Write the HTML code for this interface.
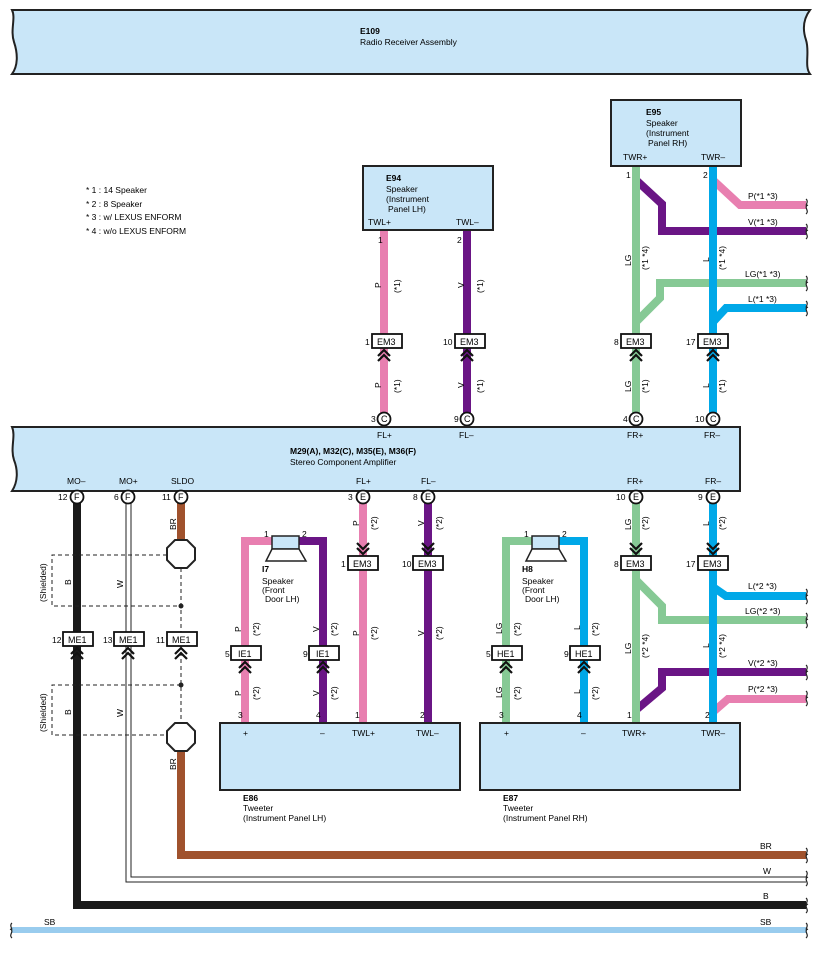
<!DOCTYPE html>
<html><head><meta charset="utf-8"><style>
html,body{margin:0;padding:0;background:#fff;}
svg{display:block;font-family:"Liberation Sans",sans-serif;font-size:8.5px;}
.b{font-weight:bold}
.box{fill:#c9e6f8;stroke:#222;stroke-width:2}
.w{fill:none;stroke-width:8;stroke-linejoin:miter}
.p{stroke:#e87fb0}.v{stroke:#6a1585}.lg{stroke:#86c995}.l{stroke:#00a8e8}.br{stroke:#a0522d}.k{stroke:#1a1a1a}
.cn{fill:#fff;stroke:#111;stroke-width:1.8}
.ch{fill:none;stroke:#111;stroke-width:2.2}
.dash{fill:none;stroke:#222;stroke-width:1;stroke-dasharray:4,3}
.pl{font-size:9px}
</style></head><body>
<svg width="818" height="954" viewBox="0 0 818 954">
<path class="box" d="M12 10 H810 C804 18 802 28 806 40 C810 52 804 66 810 74 H12 C18 66 18 54 14 42 C10 30 16 18 12 10 Z"/>
<text x="360" y="34" class="b">E109</text>
<text x="360" y="45">Radio Receiver Assembly</text>

<text x="86" y="193">* 1 : 14 Speaker</text>
<text x="86" y="207">* 2 : 8 Speaker</text>
<text x="86" y="220">* 3 : w/ LEXUS ENFORM</text>
<text x="86" y="234">* 4 : w/o LEXUS ENFORM</text>

<path class="w p" d="M384 230 V419"/>
<path class="w v" d="M467 230 V419"/>
<path class="w v" d="M636 180 L662 204 V231 H806"/>
<path class="w p" d="M713 180 L740 205 H806"/>
<path class="w lg" d="M636 166 V419"/>
<path class="w lg" d="M636 322 L660 298 V283 H806"/>
<path class="w l" d="M713 166 V419"/>
<path class="w l" d="M713 322 L726 308 H806"/>

<rect class="box" x="363" y="166" width="130" height="64"/>
<text x="386" y="181" class="b">E94</text>
<text x="386" y="192">Speaker</text><text x="386" y="202">(Instrument</text><text x="388" y="212">Panel LH)</text>
<text x="368" y="225">TWL+</text><text x="456" y="225">TWL–</text>
<rect class="box" x="611" y="100" width="130" height="66"/>
<text x="646" y="115" class="b">E95</text>
<text x="646" y="126">Speaker</text><text x="646" y="136">(Instrument</text><text x="648" y="146">Panel RH)</text>
<text x="623" y="160">TWR+</text><text x="701" y="160">TWR–</text>

<text x="378" y="243">1</text><text x="457" y="243">2</text>
<text x="626" y="178">1</text><text x="703" y="178">2</text>
<text x="748" y="199">P(*1 *3)</text>
<text x="748" y="225">V(*1 *3)</text>
<text x="745" y="277">LG(*1 *3)</text>
<text x="748" y="302">L(*1 *3)</text>

<g transform="rotate(-90)">
<text x="-288" y="381">P</text><text x="-293" y="400">(*1)</text>
<text x="-288" y="464">V</text><text x="-293" y="483">(*1)</text>
<text x="-388" y="381">P</text><text x="-393" y="400">(*1)</text>
<text x="-388" y="464">V</text><text x="-393" y="483">(*1)</text>
<text x="-266" y="631">LG</text><text x="-270" y="648">(*1 *4)</text>
<text x="-262" y="709">L</text><text x="-270" y="725">(*1 *4)</text>
<text x="-392" y="631">LG</text><text x="-393" y="648">(*1)</text>
<text x="-388" y="709">L</text><text x="-393" y="725">(*1)</text>
</g>

<rect class="cn" x="372" y="334" width="30" height="14"/><text x="377" y="345" font-size="9">EM3</text><text x="365" y="345">1</text>
<rect class="cn" x="455" y="334" width="30" height="14"/><text x="460" y="345" font-size="9">EM3</text><text x="443" y="345">10</text>
<rect class="cn" x="621" y="334" width="30" height="14"/><text x="626" y="345" font-size="9">EM3</text><text x="614" y="345">8</text>
<rect class="cn" x="698" y="334" width="30" height="14"/><text x="703" y="345" font-size="9">EM3</text><text x="686" y="345">17</text>
<path class="ch" d="M378 356 L384 350 L390 356 M378 361 L384 355 L390 361"/>
<path class="ch" d="M461 356 L467 350 L473 356 M461 361 L467 355 L473 361"/>
<path class="ch" d="M630 356 L636 350 L642 356 M630 361 L636 355 L642 361"/>
<path class="ch" d="M707 356 L713 350 L719 356 M707 361 L713 355 L719 361"/>

<circle class="cn" cx="384" cy="419" r="6.5"/><text x="381" y="422" class="pl">C</text><text x="371" y="422">3</text>
<circle class="cn" cx="467" cy="419" r="6.5"/><text x="464" y="422" class="pl">C</text><text x="454" y="422">9</text>
<circle class="cn" cx="636" cy="419" r="6.5"/><text x="633" y="422" class="pl">C</text><text x="623" y="422">4</text>
<circle class="cn" cx="713" cy="419" r="6.5"/><text x="710" y="422" class="pl">C</text><text x="695" y="422">10</text>

<path class="box" d="M12 427 H740 V491 H12 C18 482 18 470 14 460 C10 448 16 436 12 427 Z"/>
<text x="377" y="438">FL+</text><text x="459" y="438">FL–</text><text x="627" y="438">FR+</text><text x="704" y="438">FR–</text>
<text x="290" y="454" class="b">M29(A), M32(C), M35(E), M36(F)</text>
<text x="290" y="465">Stereo Component Amplifier</text>
<text x="67" y="484">MO–</text><text x="119" y="484">MO+</text><text x="171" y="484">SLDO</text>
<text x="356" y="484">FL+</text><text x="421" y="484">FL–</text><text x="627" y="484">FR+</text><text x="705" y="484">FR–</text>

<path class="w k" d="M77 497 V905 H806"/>
<path d="M126 500 V882 H806 M131 500 V877 H806" fill="none" stroke="#222" stroke-width="1"/>
<path class="w br" d="M181 500 V540"/>
<path class="w br" d="M181 752 V855 H806"/>
<path class="dash" d="M181 568 V724"/>
<path class="dash" d="M181 555 H52 V606 H181"/>
<path class="dash" d="M181 685 H52 V735 H170"/>
<circle cx="181" cy="606" r="2.5" fill="#222"/><circle cx="181" cy="685" r="2.5" fill="#222"/>
<polygon points="175,540 187,540 195,548 195,560 187,568 175,568 167,560 167,548" fill="#fff" stroke="#222" stroke-width="2"/>
<polygon points="175,723 187,723 195,731 195,743 187,751 175,751 167,743 167,731" fill="#fff" stroke="#222" stroke-width="2"/>
<path class="w p" d="M363 497 V723"/>
<path class="w v" d="M428 497 V723"/>
<path class="w p" d="M245 723 V541 H272"/>
<path class="w v" d="M298 541 H323 V723"/>
<path class="w lg" d="M506 723 V541 H532"/>
<path class="w l" d="M558 541 H584 V723"/>
<path class="w lg" d="M636 580 L662 606 V620 H806"/>
<path class="w v" d="M636 710 L662 688 V672 H806"/>
<path class="w p" d="M713 712 L728 699 H806"/>
<path class="w lg" d="M636 497 V723"/>
<path class="w l" d="M713 497 V723"/>
<path class="w l" d="M713 587 L726 596 H806"/>

<circle class="cn" cx="77" cy="497" r="6.5"/><text x="74" y="500" class="pl">F</text><text x="58" y="500">12</text>
<circle class="cn" cx="128" cy="497" r="6.5"/><text x="125" y="500" class="pl">F</text><text x="114" y="500">6</text>
<circle class="cn" cx="181" cy="497" r="6.5"/><text x="178" y="500" class="pl">F</text><text x="162" y="500">11</text>
<circle class="cn" cx="363" cy="497" r="6.5"/><text x="360" y="500" class="pl">E</text><text x="348" y="500">3</text>
<circle class="cn" cx="428" cy="497" r="6.5"/><text x="425" y="500" class="pl">E</text><text x="413" y="500">8</text>
<circle class="cn" cx="636" cy="497" r="6.5"/><text x="633" y="500" class="pl">E</text><text x="616" y="500">10</text>
<circle class="cn" cx="713" cy="497" r="6.5"/><text x="710" y="500" class="pl">E</text><text x="698" y="500">9</text>

<path class="ch" d="M357 543 L363 549 L369 543 M357 548 L363 554 L369 548"/>
<path class="ch" d="M422 543 L428 549 L434 543 M422 548 L428 554 L434 548"/>
<path class="ch" d="M630 543 L636 549 L642 543 M630 548 L636 554 L642 548"/>
<path class="ch" d="M707 543 L713 549 L719 543 M707 548 L713 554 L719 548"/>
<rect class="cn" x="348" y="556" width="30" height="14"/><text x="353" y="567" font-size="9">EM3</text><text x="341" y="567">1</text>
<rect class="cn" x="413" y="556" width="30" height="14"/><text x="418" y="567" font-size="9">EM3</text><text x="402" y="567">10</text>
<rect class="cn" x="621" y="556" width="30" height="14"/><text x="626" y="567" font-size="9">EM3</text><text x="614" y="567">8</text>
<rect class="cn" x="698" y="556" width="30" height="14"/><text x="703" y="567" font-size="9">EM3</text><text x="686" y="567">17</text>

<rect class="cn" x="63" y="632" width="30" height="14"/><text x="68" y="643" font-size="9">ME1</text><text x="52" y="643">12</text>
<rect class="cn" x="114" y="632" width="30" height="14"/><text x="119" y="643" font-size="9">ME1</text><text x="103" y="643">13</text>
<rect class="cn" x="167" y="632" width="30" height="14"/><text x="172" y="643" font-size="9">ME1</text><text x="156" y="643">11</text>
<path class="ch" d="M71 654 L77 648 L83 654 M71 659 L77 653 L83 659"/>
<path class="ch" d="M122 654 L128 648 L134 654 M122 659 L128 653 L134 659"/>
<path class="ch" d="M175 654 L181 648 L187 654 M175 659 L181 653 L187 659"/>

<rect class="cn" x="231" y="646" width="30" height="14"/><text x="238" y="657" font-size="9">IE1</text><text x="225" y="657">5</text>
<rect class="cn" x="309" y="646" width="30" height="14"/><text x="316" y="657" font-size="9">IE1</text><text x="303" y="657">9</text>
<rect class="cn" x="492" y="646" width="30" height="14"/><text x="497" y="657" font-size="9">HE1</text><text x="486" y="657">5</text>
<rect class="cn" x="570" y="646" width="30" height="14"/><text x="575" y="657" font-size="9">HE1</text><text x="564" y="657">9</text>
<path class="ch" d="M239 668 L245 662 L251 668 M239 673 L245 667 L251 673"/>
<path class="ch" d="M317 668 L323 662 L329 668 M317 673 L323 667 L329 673"/>
<path class="ch" d="M500 668 L506 662 L512 668 M500 673 L506 667 L512 673"/>
<path class="ch" d="M578 668 L584 662 L590 668 M578 673 L584 667 L590 673"/>

<rect x="272" y="536" width="27" height="13" fill="#c9e6f8" stroke="#222" stroke-width="1.5"/>
<polygon points="272,549 299,549 306,561 266,561" fill="#fff" stroke="#222" stroke-width="1.5"/>
<text x="264" y="537">1</text><text x="302" y="537">2</text>
<text x="262" y="572" class="b">I7</text><text x="262" y="584">Speaker</text><text x="262" y="593">(Front</text><text x="265" y="602">Door LH)</text>
<rect x="532" y="536" width="27" height="13" fill="#c9e6f8" stroke="#222" stroke-width="1.5"/>
<polygon points="532,549 559,549 566,561 526,561" fill="#fff" stroke="#222" stroke-width="1.5"/>
<text x="524" y="537">1</text><text x="562" y="537">2</text>
<text x="522" y="572" class="b">H8</text><text x="522" y="584">Speaker</text><text x="522" y="593">(Front</text><text x="525" y="602">Door LH)</text>

<rect class="box" x="220" y="723" width="240" height="67"/>
<text x="243" y="736">+</text><text x="320" y="736">–</text><text x="352" y="736">TWL+</text><text x="416" y="736">TWL–</text>
<text x="238" y="718">3</text><text x="316" y="718">4</text><text x="355" y="718">1</text><text x="420" y="718">2</text>
<text x="243" y="801" class="b">E86</text><text x="243" y="811">Tweeter</text><text x="243" y="821">(Instrument Panel LH)</text>
<rect class="box" x="480" y="723" width="260" height="67"/>
<text x="504" y="736">+</text><text x="581" y="736">–</text><text x="622" y="736">TWR+</text><text x="701" y="736">TWR–</text>
<text x="499" y="718">3</text><text x="577" y="718">4</text><text x="627" y="718">1</text><text x="705" y="718">2</text>
<text x="503" y="801" class="b">E87</text><text x="503" y="811">Tweeter</text><text x="503" y="821">(Instrument Panel RH)</text>

<text x="748" y="589">L(*2 *3)</text>
<text x="745" y="614">LG(*2 *3)</text>
<text x="748" y="666">V(*2 *3)</text>
<text x="748" y="692">P(*2 *3)</text>
<text x="760" y="849">BR</text><text x="763" y="874">W</text><text x="763" y="899">B</text>

<g transform="rotate(-90)">
<text x="-530" y="176">BR</text><text x="-770" y="176">BR</text>
<text x="-585" y="71">B</text><text x="-715" y="71">B</text>
<text x="-588" y="123">W</text><text x="-717" y="123">W</text>
<text x="-602" y="46">(Shielded)</text><text x="-732" y="46">(Shielded)</text>
<text x="-526" y="359">P</text><text x="-530" y="377">(*2)</text>
<text x="-526" y="424">V</text><text x="-530" y="442">(*2)</text>
<text x="-636" y="359">P</text><text x="-640" y="377">(*2)</text>
<text x="-636" y="424">V</text><text x="-640" y="442">(*2)</text>
<text x="-632" y="241">P</text><text x="-636" y="259">(*2)</text>
<text x="-632" y="319">V</text><text x="-636" y="337">(*2)</text>
<text x="-696" y="241">P</text><text x="-700" y="259">(*2)</text>
<text x="-696" y="319">V</text><text x="-700" y="337">(*2)</text>
<text x="-634" y="502">LG</text><text x="-636" y="520">(*2)</text>
<text x="-630" y="580">L</text><text x="-636" y="598">(*2)</text>
<text x="-698" y="502">LG</text><text x="-700" y="520">(*2)</text>
<text x="-694" y="580">L</text><text x="-700" y="598">(*2)</text>
<text x="-530" y="631">LG</text><text x="-530" y="648">(*2)</text>
<text x="-526" y="709">L</text><text x="-530" y="725">(*2)</text>
<text x="-654" y="631">LG</text><text x="-658" y="648">(*2 *4)</text>
<text x="-648" y="709">L</text><text x="-658" y="725">(*2 *4)</text>
</g>

<path d="M12 930 H806" stroke="#99ccee" stroke-width="6"/>
<text x="44" y="925">SB</text><text x="760" y="925">SB</text>

<g fill="none" stroke="#222" stroke-width="1.2">
<path d="M806 199 c4 3 -3 8 2 6 c-5 2 2 6 -2 9"/>
<path d="M806 224 c4 3 -3 8 2 6 c-5 2 2 6 -2 9"/>
<path d="M806 276 c4 3 -3 8 2 6 c-5 2 2 6 -2 9"/>
<path d="M806 301 c4 3 -3 8 2 6 c-5 2 2 6 -2 9"/>
<path d="M806 589 c4 3 -3 8 2 6 c-5 2 2 6 -2 9"/>
<path d="M806 613 c4 3 -3 8 2 6 c-5 2 2 6 -2 9"/>
<path d="M806 665 c4 3 -3 8 2 6 c-5 2 2 6 -2 9"/>
<path d="M806 691 c4 3 -3 8 2 6 c-5 2 2 6 -2 9"/>
<path d="M806 848 c4 3 -3 8 2 6 c-5 2 2 6 -2 9"/>
<path d="M806 871 c4 3 -3 8 2 6 c-5 2 2 6 -2 9"/>
<path d="M806 898 c4 3 -3 8 2 6 c-5 2 2 6 -2 9"/>
<path d="M806 923 c4 3 -3 8 2 6 c-5 2 2 6 -2 9"/>
<path d="M12 923 c-4 3 3 8 -2 6 c5 2 -2 6 2 9"/>
</g>
</svg>
</body></html>
